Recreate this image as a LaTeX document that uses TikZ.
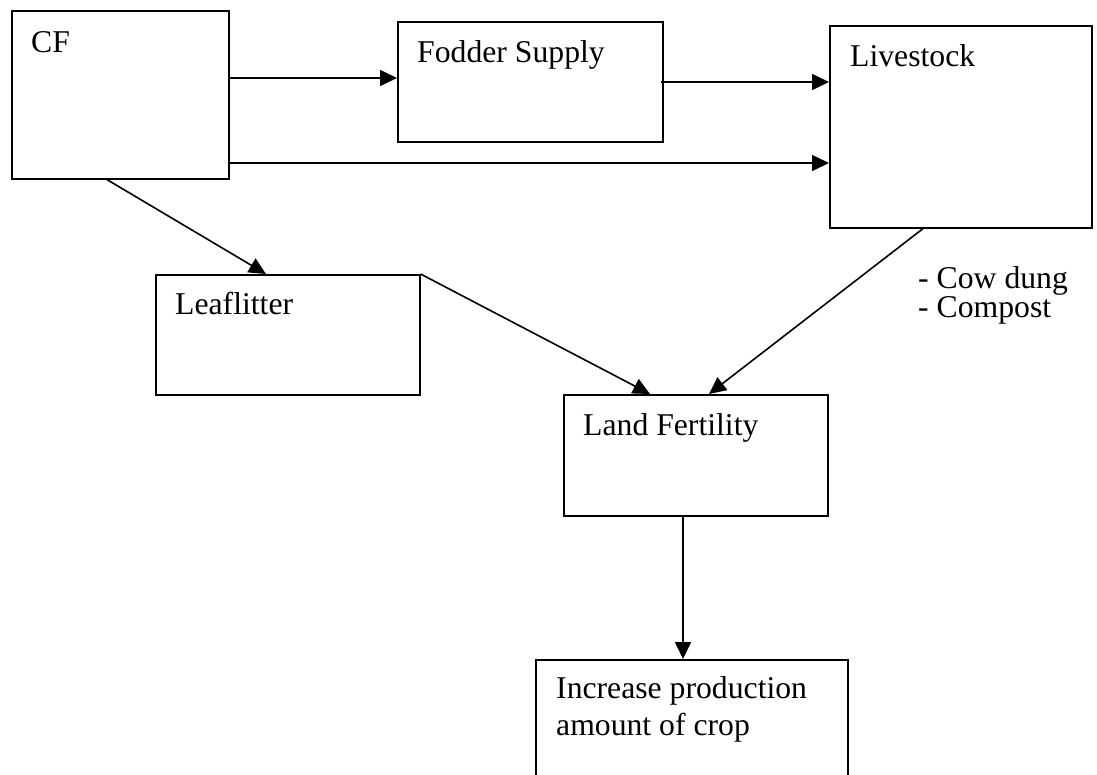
\documentclass[tikz,border=0pt]{standalone}
\usepackage{fontspec}
\setmainfont{Liberation Serif}
\usetikzlibrary{arrows.meta}
\begin{document}
\begin{tikzpicture}[x=1pt,y=-1pt,
  box/.style={draw, line width=1.6pt, rectangle, inner sep=0pt, anchor=north west},
  lbl/.style={anchor=base west, inner sep=0pt, font=\fontsize{31.7}{37}\selectfont},
  arr/.style={line width=1.6pt, -{Triangle[length=17pt,width=16pt]}}]
\useasboundingbox (0,0) rectangle (1097,774);
\clip (0,0) rectangle (1097,774);
\fill[white] (0,0) rectangle (1097,774);
% boxes
\node[box, minimum width=217pt, minimum height=168pt] (cf) at (11,10) {};
\node[box, minimum width=265pt, minimum height=120pt] (fod) at (397,21) {};
\node[box, minimum width=262pt, minimum height=202pt] (liv) at (829,25) {};
\node[box, minimum width=264pt, minimum height=120pt] (leaf) at (155,274) {};
\node[box, minimum width=264pt, minimum height=121pt] (lf) at (563,394) {};
\node[box, minimum width=312pt, minimum height=140pt] (inc) at (535,659) {};
% texts
\node[lbl] (tcf) at (31,52) {CF};
\node[lbl] (tfod) at (417,62) {Fodder Supply};
\node[lbl] (tliv) at (850,66) {Livestock};
\node[lbl] (tleaf) at (175,314) {Leaflitter};
\node[lbl] (tlf) at (583,435) {Land Fertility};
\node[lbl] (tinc1) at (556,698) {Increase production};
\node[lbl] (tinc2) at (556,735) {amount of crop};
\node[lbl] (tdung) at (918,288) {- Cow dung};
\node[lbl] (tcomp) at (918,317) {- Compost};
% connectors
\draw[arr] ([yshift=-68pt]cf.north east) -- ([yshift=-57pt]fod.north west);
\draw[arr] ([xshift=-3pt,yshift=-61pt]fod.north east) -- ([yshift=-57pt]liv.north west);
\draw[arr] ([yshift=-153pt]cf.north east) -- ([yshift=-138pt]liv.north west);
\draw[arr] ([xshift=96pt]cf.south west) -- ([xshift=111pt]leaf.north west);
\draw[arr] (leaf.north east) -- ([xshift=87pt]lf.north west);
\draw[arr] ([xshift=94pt]liv.south west) -- ([xshift=146pt]lf.north west);
\draw[arr] ([xshift=120pt]lf.south west) -- ([xshift=148pt]inc.north west);
\end{tikzpicture}
\end{document}
